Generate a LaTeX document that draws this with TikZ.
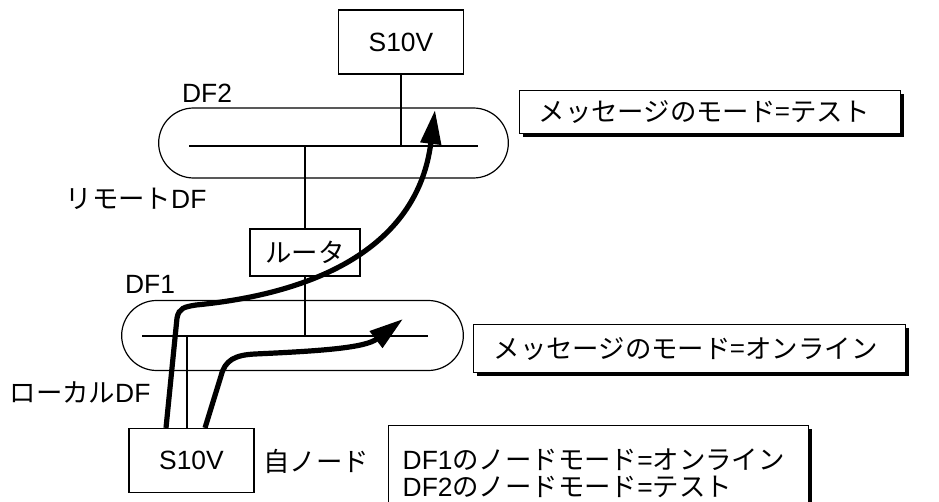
\documentclass[tikz,border=0pt]{standalone}
\usepackage{fontspec}
\setmainfont{Liberation Sans}
\newfontfamily\jpfont{Noto Sans CJK JP}
\usepackage{tikz}
\usetikzlibrary{arrows.meta,positioning,shapes.misc,shadows}

\begin{document}
\begin{tikzpicture}[x=0.5pt, y=-0.5pt, font=\fontsize{13.2}{16}\selectfont,
  unit/.style={draw, line width=0.6pt, minimum width=62.5pt, minimum height=32pt},
  dfring/.style={draw, rounded rectangle, line width=0.6pt, minimum height=35pt},
  wire/.style={line width=0.6pt},
  flow/.style={line width=2.6pt, -{Triangle[length=17pt, width=10pt]}},
  modebox/.style={draw, fill=white, line width=0.7pt, anchor=north west, align=left,
                  drop shadow={shadow xshift=1.6pt, shadow yshift=-1.6pt, fill=black, opacity=1}}]
\useasboundingbox (0,0) rectangle (939,502);
% --- remote DF2 ---
\node[unit] (s10vtop) at (401,42) {S10V};
\node[dfring, minimum width=181.5pt] (df2) at (333.5,143) {};
\coordinate (b2w) at (189,146);
\coordinate (b2e) at (478,146);
\draw[wire] (b2w) -- (b2e);
\draw[wire] (s10vtop.south) -- (s10vtop.south |- b2w);
\node (df2lbl) at (207,93) {DF2};
\node (remlbl) at (136,199) {{\jpfont リモート}DF};
% --- router ---
\node[draw, line width=0.6pt, minimum width=55pt, minimum height=23.5pt] (router) at (305,252.5)
  {\jpfont ルータ};
\draw[wire] (router.north) -- (router.north |- b2w);
% --- local DF1 ---
\node[dfring, minimum width=177.5pt] (df1) at (292.5,335.5) {};
\coordinate (b1w) at (142,336);
\coordinate (b1e) at (428,336);
\draw[wire] (b1w) -- (b1e);
\draw[wire] (router.south) -- (router.south |- b1w);
\node (df1lbl) at (150,284) {DF1};
\node (loclbl) at (80,392) {{\jpfont ローカル}DF};
% --- own node ---
\node[unit] (s10vloc) at (191.5,460.5) {S10V};
\node (selflbl) at (316,461) {\jpfont 自ノード};
\draw[wire] ([xshift=-2.25pt]s10vloc.north) -- ([xshift=-2.25pt]s10vloc.north |- b1w);
% --- message paths ---
\coordinate (tipdf2) at (435,110);
\coordinate (tipdf1) at (403,319);
\draw[flow] ([xshift=-12.75pt]s10vloc.north) -- (177,318)
  .. controls (179,308) and (184,307) .. (196,305)
  .. controls (320,293) and (418,245) .. (tipdf2);
\draw[flow] ([xshift=6.75pt]s10vloc.north) -- (221,376)
  .. controls (225,360) and (235,355) .. (255,354)
  .. controls (320,351) and (365,348) .. (tipdf1);
% --- mode boxes ---
\node[modebox, text width=171.5pt, inner xsep=9.5pt, minimum height=21.5pt] (modedf2) at (519,90)
  {\jpfont メッセージのモード=テスト};
\node[modebox, text width=196pt, inner xsep=10pt, minimum height=24pt] (modedf1) at (473,324)
  {\jpfont メッセージのモード=オンライン};
\node[modebox, text width=196pt, inner xsep=7pt, minimum height=48pt,
      font=\fontsize{13.2}{13.4}\selectfont] (nodemode) at (388,425)
  {DF1{\jpfont のノードモード}={\jpfont オンライン}\\DF2{\jpfont のノードモード}={\jpfont テスト}};
\end{tikzpicture}
\end{document}
